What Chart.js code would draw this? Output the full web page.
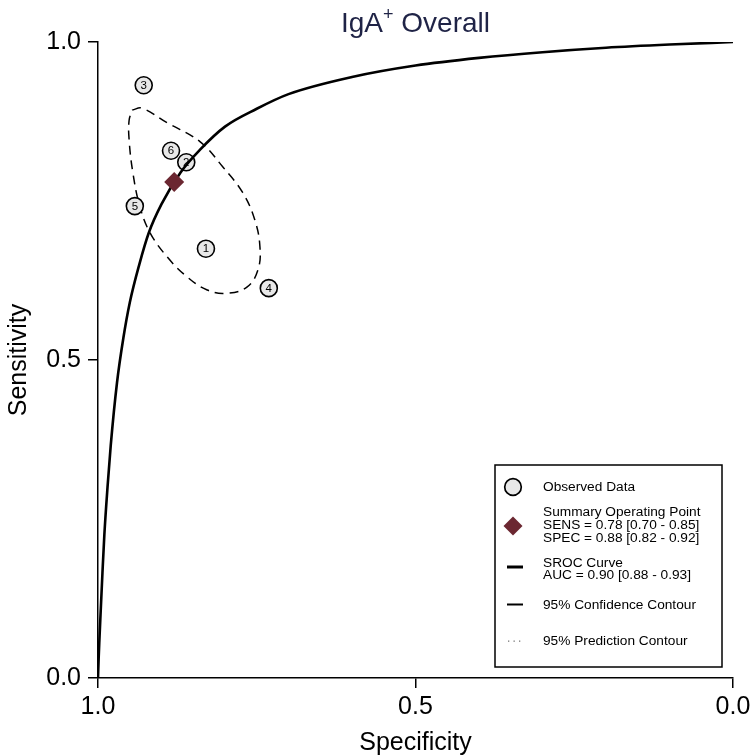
<!DOCTYPE html>
<html><head><meta charset="utf-8">
<script src="https://cdn.jsdelivr.net/npm/chart.js@4/dist/chart.umd.min.js"></script>
<style>html,body{margin:0;padding:0;background:#fff;} #wrap{width:754px;height:756px;}</style>
</head><body><div id="wrap"><canvas id="c" width="754" height="756"></canvas></div>
<script>
// ---- data ----
const studyLabels = ['1', '2', '3', '4', '5', '6'];
const studySpec = [0.830, 0.861, 0.928, 0.731, 0.942, 0.885];
const studySens = [0.675, 0.811, 0.932, 0.613, 0.742, 0.829];

const summarySpec = [0.88];
const summarySens = [0.78];

const srocSpec = [1, 0.999, 0.998, 0.996, 0.993, 0.99, 0.985, 0.98, 0.97, 0.96, 0.95, 0.935, 0.92, 0.9, 0.87, 0.84, 0.8, 0.75, 0.7, 0.6, 0.5, 0.4, 0.3, 0.2, 0.1, 0];
const srocSens = [0, 0.03, 0.055, 0.10, 0.165, 0.225, 0.30, 0.365, 0.465, 0.535, 0.59, 0.65, 0.70, 0.745, 0.795, 0.83, 0.867, 0.895, 0.918, 0.945, 0.963, 0.975, 0.984, 0.991, 0.996, 1.0];

const confSpec = [0.946, 0.931, 0.891, 0.839, 0.803, 0.772, 0.753, 0.745, 0.748, 0.765, 0.797, 0.828, 0.860, 0.891, 0.918, 0.934, 0.945, 0.951, 0.951, 0.946];
const confSens = [0.893, 0.896, 0.873, 0.843, 0.803, 0.763, 0.720, 0.678, 0.642, 0.615, 0.605, 0.610, 0.631, 0.662, 0.700, 0.741, 0.794, 0.846, 0.877, 0.893];

const tickValues = [0.0, 0.5, 1.0];

const legendTexts = {
  observed: ['Observed Data'],
  summary: ['Summary Operating Point', 'SENS = 0.78 [0.70 - 0.85]', 'SPEC = 0.88 [0.82 - 0.92]'],
  sroc: ['SROC Curve', 'AUC = 0.90 [0.88 - 0.93]'],
  conf: ['95% Confidence Contour'],
  pred: ['95% Prediction Contour']
};

const FONT = '"Liberation Sans", Arial, sans-serif';
const zip = (xs, ys) => xs.map((x, i) => ({x: x, y: ys[i]}));

const titlePlugin = {
  id: 'titleSup',
  afterDraw(chart) {
    const ctx = chart.ctx, ca = chart.chartArea;
    ctx.save();
    ctx.fillStyle = '#1f2346';
    ctx.textBaseline = 'alphabetic';
    ctx.textAlign = 'left';
    const big = '28px ' + FONT, small = '18px ' + FONT;
    ctx.font = big; const w1 = ctx.measureText('IgA').width;
    ctx.font = small; const w2 = ctx.measureText('+').width;
    ctx.font = big; const w3 = ctx.measureText(' Overall').width;
    const total = w1 + w2 + w3;
    let x = (ca.left + ca.right) / 2 - total / 2;
    const y = 32;
    ctx.font = big; ctx.fillText('IgA', x, y); x += w1;
    ctx.font = small; ctx.fillText('+', x, y - 12); x += w2;
    ctx.font = big; ctx.fillText(' Overall', x, y);
    ctx.restore();
  }
};

const labelPlugin = {
  id: 'pointLabels',
  afterDatasetsDraw(chart) {
    const ctx = chart.ctx;
    const idx = chart.data.datasets.findIndex(d => d.id === 'obs');
    const meta = chart.getDatasetMeta(idx);
    ctx.save();
    ctx.font = '11.5px ' + FONT;
    ctx.fillStyle = '#000';
    ctx.textAlign = 'center';
    ctx.textBaseline = 'middle';
    meta.data.forEach((el, i) => ctx.fillText(studyLabels[i], el.x, el.y + 0.5));
    ctx.restore();
  }
};

const legendPlugin = {
  id: 'boxLegend',
  afterDraw(chart) {
    const ctx = chart.ctx;
    ctx.save();
    // box
    ctx.strokeStyle = '#000'; ctx.lineWidth = 1.5;
    ctx.strokeRect(495, 465, 227, 202);
    const sx = 513, tx = 543;
    ctx.font = '13.7px ' + FONT;
    ctx.fillStyle = '#000';
    ctx.textAlign = 'left';
    ctx.textBaseline = 'middle';
    // observed
    ctx.beginPath(); ctx.arc(sx, 487, 8.3, 0, Math.PI * 2);
    ctx.fillStyle = '#e8e8e8'; ctx.fill(); ctx.lineWidth = 1.7; ctx.strokeStyle = '#000'; ctx.stroke();
    ctx.fillStyle = '#000';
    ctx.fillText(legendTexts.observed[0], tx, 487);
    // summary
    ctx.beginPath();
    ctx.moveTo(sx - 9.5, 526); ctx.lineTo(sx, 516.5); ctx.lineTo(sx + 9.5, 526); ctx.lineTo(sx, 535.5); ctx.closePath();
    ctx.fillStyle = '#6b2731'; ctx.fill();
    ctx.fillStyle = '#000';
    legendTexts.summary.forEach((t, i) => ctx.fillText(t, tx, 512 + i * 13.3));
    // sroc
    ctx.beginPath(); ctx.moveTo(507, 567); ctx.lineTo(523, 567); ctx.lineWidth = 3; ctx.stroke();
    legendTexts.sroc.forEach((t, i) => ctx.fillText(t, tx, 563 + i * 12.5));
    // conf
    ctx.beginPath(); ctx.moveTo(507, 604.5); ctx.lineTo(523, 604.5); ctx.lineWidth = 2; ctx.stroke();
    ctx.fillText(legendTexts.conf[0], tx, 605);
    // pred
    ctx.fillStyle = '#777';
    [508, 513.5, 519].forEach(x => ctx.fillRect(x, 640.5, 1.3, 1.3));
    ctx.fillStyle = '#000';
    ctx.fillText(legendTexts.pred[0], tx, 641);
    ctx.restore();
  }
};

const axisCommon = {
  type: 'linear', min: 0, max: 1,
  grid: {display: true, drawOnChartArea: false, drawTicks: true, tickLength: 10, color: '#000', lineWidth: 1.5},
  border: {display: true, color: '#000', width: 1.5},
};

new Chart(document.getElementById('c'), {
  type: 'scatter',
  data: {
    datasets: [
      {id: 'sum', data: zip(summarySpec, summarySens), pointStyle: 'rectRot', pointRadius: 10, pointHoverRadius: 10,
       backgroundColor: '#6b2731', borderColor: '#6b2731', borderWidth: 0, order: 0},
      {id: 'sroc', data: zip(srocSpec, srocSens), showLine: true, pointRadius: 0, borderColor: '#000', borderWidth: 2.6,
       cubicInterpolationMode: 'monotone', fill: false, order: 1},
      {id: 'obs', data: zip(studySpec, studySens), pointStyle: 'circle', pointRadius: 8.5, pointHoverRadius: 8.5,
       backgroundColor: '#e8e8e8', borderColor: '#000', borderWidth: 1.6, order: 2},
      {id: 'conf', data: zip(confSpec, confSens), showLine: true, pointRadius: 0, borderColor: '#000', borderWidth: 1.5,
       borderDash: [9, 6], tension: 0.4, fill: false, order: 3}
    ]
  },
  options: {
    responsive: false, animation: false, devicePixelRatio: 1,
    layout: {padding: {top: 42, right: 21, left: 0, bottom: 0}},
    plugins: {legend: {display: false}, tooltip: {enabled: false}, title: {display: false}},
    scales: {
      x: Object.assign({}, axisCommon, {
        reverse: true,
        afterFit(s) { s.height = 78; },
        afterBuildTicks(s) { s.ticks = tickValues.map(v => ({value: v})); },
        ticks: {callback: v => v.toFixed(1), font: {family: FONT, size: 25}, color: '#000', padding: 4, maxRotation: 0, autoSkip: false},
        title: {display: true, text: 'Specificity', font: {family: FONT, size: 25, lineHeight: 1}, color: '#000', padding: 0}
      }),
      y: Object.assign({}, axisCommon, {
        afterFit(s) { s.width = 98; },
        afterBuildTicks(s) { s.ticks = tickValues.map(v => ({value: v})); },
        ticks: {callback: v => v.toFixed(1), font: {family: FONT, size: 25}, color: '#000', padding: 7, autoSkip: false},
        title: {display: true, text: 'Sensitivity', font: {family: FONT, size: 25, lineHeight: 1}, color: '#000', padding: {top: 7, bottom: 0}}
      })
    }
  },
  plugins: [labelPlugin, titlePlugin, legendPlugin]
});
</script></body></html>
